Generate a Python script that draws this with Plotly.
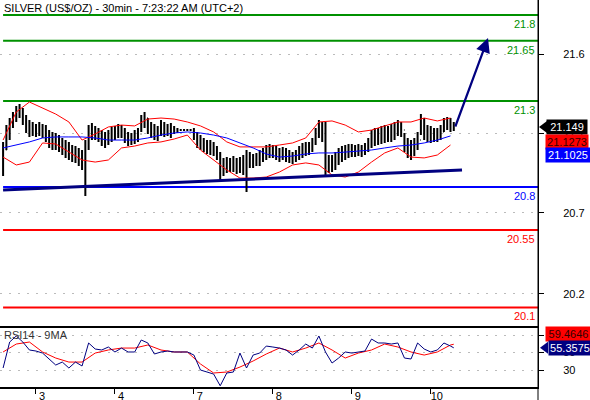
import plotly.graph_objects as go

# ---------------- data (hourly bars, index 0 = first bar of day 2) ----------------
BAR_INDEX = list(range(138))
HIGH = [21.062, 21.160, 21.201, 21.236, 21.271, 21.283, 21.259, 21.219, 21.190, 21.178,
        21.166, 21.178, 21.166, 21.160, 21.131, 21.120, 21.114, 21.102, 21.085, 21.073,
        21.062, 21.044, 21.038, 21.027, 21.015, 21.073, 21.160, 21.172, 21.155, 21.143,
        21.131, 21.120, 21.131, 21.149, 21.155, 21.166, 21.160, 21.143, 21.120, 21.114,
        21.131, 21.143, 21.219, 21.236, 21.201, 21.178, 21.166, 21.155, 21.190, 21.178,
        21.166, 21.172, 21.155, 21.143, 21.137, 21.137, 21.137, 21.137, 21.143, 21.120,
        21.102, 21.085, 21.073, 21.073, 21.062, 21.038, 21.003, 20.969, 20.974, 20.969,
        20.980, 20.969, 20.974, 20.986, 21.015, 21.003, 20.992, 20.998, 21.015, 21.027,
        21.044, 21.050, 21.044, 21.038, 21.027, 21.033, 21.027, 21.015, 21.003, 21.015,
        21.038, 21.056, 21.062, 21.062, 21.085, 21.143, 21.190, 21.178, 21.178, 20.986,
        20.986, 21.003, 21.027, 21.038, 21.044, 21.050, 21.050, 21.044, 21.050, 21.044,
        21.056, 21.085, 21.131, 21.143, 21.143, 21.155, 21.160, 21.155, 21.166, 21.178,
        21.190, 21.178, 21.114, 21.085, 21.073, 21.085, 21.120, 21.224, 21.201, 21.160,
        21.155, 21.143, 21.143, 21.160, 21.201, 21.207, 21.201, 21.178]
LOW = [20.864, 21.015, 21.073, 21.143, 21.178, 21.201, 21.160, 21.114, 21.091, 21.097,
       21.091, 21.097, 21.085, 21.062, 21.027, 21.015, 21.015, 21.003, 20.986, 20.969,
       20.957, 20.945, 20.940, 20.922, 20.899, 20.748, 21.015, 21.073, 21.073, 21.062,
       21.038, 21.027, 21.044, 21.062, 21.073, 21.085, 21.085, 21.056, 21.038, 21.044,
       21.050, 21.062, 21.120, 21.143, 21.108, 21.085, 21.073, 21.067, 21.097, 21.091,
       21.097, 21.085, 21.108, 21.114, 21.126, 21.126, 21.126, 21.126, 21.073, 21.027,
       21.015, 21.003, 20.992, 20.986, 20.980, 20.957, 20.841, 20.864, 20.881, 20.887,
       20.887, 20.876, 20.881, 20.870, 20.771, 20.910, 20.910, 20.922, 20.922, 20.945,
       20.957, 20.969, 20.969, 20.957, 20.945, 20.957, 20.945, 20.940, 20.934, 20.945,
       20.957, 20.969, 20.980, 20.986, 21.003, 21.044, 21.085, 21.062, 20.870, 20.881,
       20.887, 20.899, 20.928, 20.945, 20.957, 20.969, 20.974, 20.974, 20.980, 20.974,
       20.986, 21.003, 21.027, 21.038, 21.044, 21.050, 21.056, 21.062, 21.062, 21.073,
       21.097, 21.091, 21.003, 20.969, 20.957, 20.980, 21.015, 21.102, 21.073, 21.062,
       21.056, 21.062, 21.062, 21.073, 21.120, 21.131, 21.120, 21.126]
CLOSE = [21.015, 21.102, 21.160, 21.201, 21.236, 21.248, 21.201, 21.160, 21.143, 21.131,
         21.126, 21.143, 21.120, 21.097, 21.073, 21.062, 21.050, 21.038, 21.027, 21.015,
         21.003, 20.986, 20.980, 20.969, 20.957, 21.044, 21.120, 21.131, 21.108, 21.097,
         21.073, 21.062, 21.085, 21.108, 21.120, 21.131, 21.126, 21.091, 21.073, 21.085,
         21.091, 21.108, 21.190, 21.201, 21.155, 21.131, 21.120, 21.108, 21.143, 21.137,
         21.131, 21.131, 21.137, 21.131, 21.131, 21.131, 21.131, 21.131, 21.108, 21.073,
         21.056, 21.038, 21.027, 21.033, 21.015, 20.986, 20.928, 20.910, 20.928, 20.928,
         20.940, 20.922, 20.928, 20.910, 20.945, 20.957, 20.945, 20.957, 20.969, 20.986,
         21.003, 21.015, 21.003, 20.992, 20.986, 20.998, 20.980, 20.974, 20.969, 20.986,
         21.003, 21.015, 21.027, 21.033, 21.056, 21.102, 21.143, 21.131, 20.928, 20.928,
         20.940, 20.957, 20.980, 20.998, 21.003, 21.015, 21.009, 21.009, 21.015, 21.015,
         21.027, 21.050, 21.091, 21.097, 21.102, 21.108, 21.120, 21.114, 21.126, 21.131,
         21.155, 21.131, 21.044, 21.015, 21.015, 21.044, 21.073, 21.178, 21.131, 21.108,
         21.097, 21.108, 21.102, 21.120, 21.166, 21.172, 21.160, 21.149]
OPEN = [CLOSE[0]] + CLOSE[:-1]

BAND_INDEX = [0, 4, 8, 12, 16, 20, 24, 28, 32, 36, 40, 44, 48, 52, 56, 60, 64, 68,
              72, 76, 80, 84, 88, 92, 96, 100, 104, 108, 112, 116, 120, 124, 128, 132, 136]
BB_UPPER = [21.073, 21.236, 21.294, 21.259, 21.224, 21.178, 21.073, 21.108, 21.149, 21.160,
            21.155, 21.195, 21.201, 21.195, 21.178, 21.155, 21.120, 21.062, 21.033, 21.033,
            21.033, 21.044, 21.056, 21.085, 21.178, 21.184, 21.160, 21.120, 21.131, 21.155,
            21.178, 21.178, 21.201, 21.184, 21.201]
BB_LOWER = [20.974, 20.928, 20.945, 21.056, 21.050, 21.003, 20.957, 20.945, 20.957, 21.027,
            21.038, 21.056, 21.062, 21.079, 21.102, 21.015, 20.957, 20.899, 20.852, 20.852,
            20.858, 20.887, 20.928, 20.940, 20.928, 20.870, 20.858, 20.887, 20.945, 20.998,
            21.027, 20.974, 20.969, 20.986, 21.044]
MA_BLUE = [21.027, 21.044, 21.062, 21.085, 21.091, 21.091, 21.091, 21.085, 21.073, 21.073,
           21.073, 21.085, 21.102, 21.114, 21.120, 21.114, 21.102, 21.085, 21.056, 21.027,
           20.992, 20.974, 20.980, 20.992, 20.998, 20.998, 21.003, 21.009, 21.015, 21.027,
           21.038, 21.044, 21.056, 21.073, 21.097]

RSI_INDEX = list(range(0, 137, 2)) + [137]
RSI = [32.3, 62.0, 68.9, 62.0, 52.9, 51.7, 49.4, 42.6, 35.7, 39.1,
       32.3, 39.1, 34.6, 60.9, 54.0, 52.9, 56.3, 50.6, 55.1, 50.6,
       50.6, 64.3, 60.9, 48.3, 50.6, 51.7, 50.6, 50.6, 50.6, 47.1,
       30.0, 27.7, 25.4, 12.0, 26.6, 27.7, 49.4, 32.3, 47.1, 49.4,
       57.4, 56.3, 55.1, 52.9, 47.1, 52.9, 59.7, 55.1, 68.9, 50.6,
       38.0, 43.7, 50.6, 49.4, 50.6, 51.7, 65.4, 60.9, 60.9, 59.7,
       60.9, 43.7, 42.6, 60.9, 54.0, 50.6, 52.9, 60.9, 57.4, 55.3575]
RSI_MA_INDEX = BAND_INDEX + [137]
RSI_MA = [50.6, 59.7, 62.0, 50.6, 43.7, 39.1, 39.1, 49.4, 52.9, 55.1,
          55.1, 58.6, 52.9, 50.6, 50.6, 36.9, 26.6, 27.7, 33.4, 40.3,
          48.3, 55.1, 50.6, 55.1, 60.9, 52.9, 43.7, 49.4, 52.9, 59.7,
          56.3, 50.6, 47.1, 50.6, 58.6, 59.4646]

DAY_START_INDEX = [10, 34, 58, 82, 106, 130]
DAY_LABELS = ["3", "4", "7", "8", "9", "10"]

PRICE_TICKS = [21.57, 21.11, 20.65, 20.18]
PRICE_TICK_LABELS = ["21.6", "21.1", "20.7", "20.2"]
RSI_TICKS = [70, 50, 30]
RSI_TICK_LABELS = ["70", "50", "30"]

LEVELS = [21.8, 21.65, 21.3, 20.8, 20.55, 20.1]
LEVEL_LABELS = ["21.8", "21.65", "21.3", "20.8", "20.55", "20.1"]
LEVEL_COLORS = ["#009100", "#009100", "#009100", "#0000FF", "#FF0000", "#FF0000"]

TREND_X = [0, 139.5]
TREND_Y = [20.783, 20.899]
ARROW_FROM = (137.3, 21.143)
ARROW_TO = (147.4, 21.666)

LAST_PRICE = 21.149
LAST_BB = 21.1273
LAST_MA = 21.1025
LAST_RSI = 55.3575
LAST_RSI_MA = 59.4646

TITLE = "SILVER (US$/OZ) - 30min - 7:23:22 AM (UTC+2)"

X_RANGE = [-0.94, 162.6]
PRICE_RANGE = [19.992, 21.887]
RSI_RANGE = [10.6, 80.3]

FONT = "Arial, Liberation Sans, sans-serif"
NAVY = "#000080"

fig = go.Figure()

fig.add_trace(go.Scatter(x=BAND_INDEX, y=BB_UPPER, mode="lines",
                         line=dict(color="#FF0000", width=1), xaxis="x", yaxis="y"))
fig.add_trace(go.Scatter(x=BAND_INDEX, y=BB_LOWER, mode="lines",
                         line=dict(color="#FF0000", width=1), xaxis="x", yaxis="y"))
fig.add_trace(go.Scatter(x=BAND_INDEX, y=MA_BLUE, mode="lines",
                         line=dict(color="#0000FF", width=1), xaxis="x", yaxis="y"))
fig.add_trace(go.Ohlc(x=BAR_INDEX, open=OPEN, high=HIGH, low=LOW, close=CLOSE,
                      increasing=dict(line=dict(color="black", width=2)),
                      decreasing=dict(line=dict(color="black", width=2)),
                      tickwidth=0.15, xaxis="x", yaxis="y"))

fig.add_trace(go.Scatter(x=RSI_MA_INDEX, y=RSI_MA, mode="lines",
                         line=dict(color="#FF0000", width=1), xaxis="x2", yaxis="y2"))
fig.add_trace(go.Scatter(x=RSI_INDEX, y=RSI, mode="lines",
                         line=dict(color=NAVY, width=1), xaxis="x2", yaxis="y2"))

shapes = []
for lv, col in zip(LEVELS, LEVEL_COLORS):
    shapes.append(dict(type="line", xref="x", yref="y", x0=BAR_INDEX[0], x1=X_RANGE[1],
                       y0=lv, y1=lv, line=dict(color=col, width=2.2 if col == "#0000FF" else 2),
                       layer="below"))
shapes.append(dict(type="line", xref="x", yref="y", x0=TREND_X[0], x1=TREND_X[1],
                   y0=TREND_Y[0], y1=TREND_Y[1], line=dict(color=NAVY, width=3)))
# right border extending to the bottom of the picture
shapes.append(dict(type="line", xref="paper", yref="paper", x0=1, x1=1, y0=-0.05, y1=1,
                   line=dict(color="black", width=1)))
# pointers of the value tags
shapes.append(dict(type="path", xref="paper", yref="y", xsizemode="pixel", ysizemode="pixel",
                   xanchor=1, yanchor=LAST_PRICE, path="M1,0 L9,6 L9,-6 Z",
                   fillcolor="black", line=dict(width=0)))
shapes.append(dict(type="path", xref="paper", yref="y2", xsizemode="pixel", ysizemode="pixel",
                   xanchor=1, yanchor=LAST_RSI, path="M2,0 L10,6 L10,-6 Z",
                   fillcolor=NAVY, line=dict(width=0)))

annotations = []
for lv, lab, col in zip(LEVELS, LEVEL_LABELS, LEVEL_COLORS):
    annotations.append(dict(xref="paper", yref="y", x=1, y=lv, xanchor="right", yanchor="top",
                            xshift=-1, yshift=-1, text=lab, showarrow=False,
                            font=dict(family=FONT, size=11, color=col)))
annotations.append(dict(xref="x", yref="y", x=ARROW_TO[0], y=ARROW_TO[1],
                        axref="x", ayref="y", ax=ARROW_FROM[0], ay=ARROW_FROM[1],
                        text="", showarrow=True, arrowhead=2, arrowsize=1.3,
                        arrowwidth=2.2, arrowcolor=NAVY))
annotations.append(dict(xref="paper", yref="paper", x=0, y=1, xanchor="left", yanchor="top",
                        xshift=2, yshift=0, text=TITLE, showarrow=False,
                        font=dict(family=FONT, size=11, color="black")))
annotations.append(dict(xref="paper", yref="paper", x=0, y=0.1576, xanchor="left",
                        yanchor="top", xshift=2, yshift=-1, text="RSI14 - 9MA", showarrow=False,
                        font=dict(family=FONT, size=11, color="#333333")))
# value tags
annotations.append(dict(xref="paper", yref="y", x=1, y=LAST_PRICE, xanchor="left",
                        yanchor="middle", xshift=8, text="21.149", showarrow=False,
                        bgcolor="black", borderpad=1, width=38, align="center",
                        font=dict(family=FONT, size=11, color="white")))
annotations.append(dict(xref="paper", yref="y", x=1, y=LAST_BB, xanchor="left",
                        yanchor="middle", xshift=7, yshift=-11, text="21.1273", showarrow=False,
                        bgcolor="#FF0000", borderpad=1, width=40, align="center",
                        font=dict(family=FONT, size=11, color="#330000")))
annotations.append(dict(xref="paper", yref="y", x=1, y=LAST_MA, xanchor="left",
                        yanchor="middle", xshift=7, yshift=-20, text="21.1025", showarrow=False,
                        bgcolor="#0000FF", borderpad=1, width=42, align="center",
                        font=dict(family=FONT, size=11, color="white")))
annotations.append(dict(xref="paper", yref="y2", x=1, y=LAST_RSI_MA, xanchor="left",
                        yanchor="middle", xshift=7, yshift=10.5, text="59.4646", showarrow=False,
                        bgcolor="#FF0000", borderpad=1, width=43, align="center",
                        font=dict(family=FONT, size=11, color="#330000")))
annotations.append(dict(xref="paper", yref="y2", x=1, y=LAST_RSI, xanchor="left",
                        yanchor="middle", xshift=10, text="55.3575", showarrow=False,
                        bgcolor=NAVY, borderpad=1, width=40, align="center",
                        font=dict(family=FONT, size=11, color="white")))

grid = dict(showgrid=True, gridcolor="#BBBBBB", griddash="2px,7px", gridwidth=1)

fig.update_layout(
    width=590, height=400,
    margin=dict(l=0, r=52, t=0, b=13, autoexpand=False),
    paper_bgcolor="white", plot_bgcolor="white",
    showlegend=False,
    font=dict(family=FONT, size=11, color="black"),
    xaxis=dict(domain=[0, 1], range=X_RANGE, anchor="y", showticklabels=False,
               ticks="", showgrid=False, zeroline=False, showline=True, automargin=False,
               linecolor="black", linewidth=1.5, rangeslider=dict(visible=False)),
    xaxis2=dict(domain=[0, 1], range=X_RANGE, anchor="y2", matches="x", automargin=False,
                tickmode="array", tickvals=DAY_START_INDEX, ticktext=DAY_LABELS,
                ticks="outside", ticklen=5, tickcolor="black", tickwidth=1,
                ticklabelshift=6, ticklabelstandoff=-7,
                tickfont=dict(family=FONT, size=11, color="black"),
                showgrid=False, zeroline=False, showline=True,
                linecolor="black", linewidth=1.5),
    yaxis=dict(domain=[0.1576, 1], range=PRICE_RANGE, side="right", anchor="x",
               automargin=False,
               tickmode="array", tickvals=PRICE_TICKS, ticktext=PRICE_TICK_LABELS,
               ticks="outside", ticklen=5, tickcolor="black",
               ticklabelstandoff=17, tickfont=dict(family=FONT, size=11, color="black"),
               zeroline=False, showline=True, linecolor="black", linewidth=1, **grid),
    yaxis2=dict(domain=[0, 0.1576], range=RSI_RANGE, side="right", anchor="x2",
                automargin=False,
                tickmode="array", tickvals=RSI_TICKS, ticktext=RSI_TICK_LABELS,
                ticks="outside", ticklen=5, tickcolor="black",
                ticklabelstandoff=17, tickfont=dict(family=FONT, size=11, color="black"),
                zeroline=False, showline=True, linecolor="black", linewidth=1, **grid),
    shapes=shapes,
    annotations=annotations,
)

fig.write_html("out.html", config={"displayModeBar": False},
               post_script="document.body.style.margin='0';")
